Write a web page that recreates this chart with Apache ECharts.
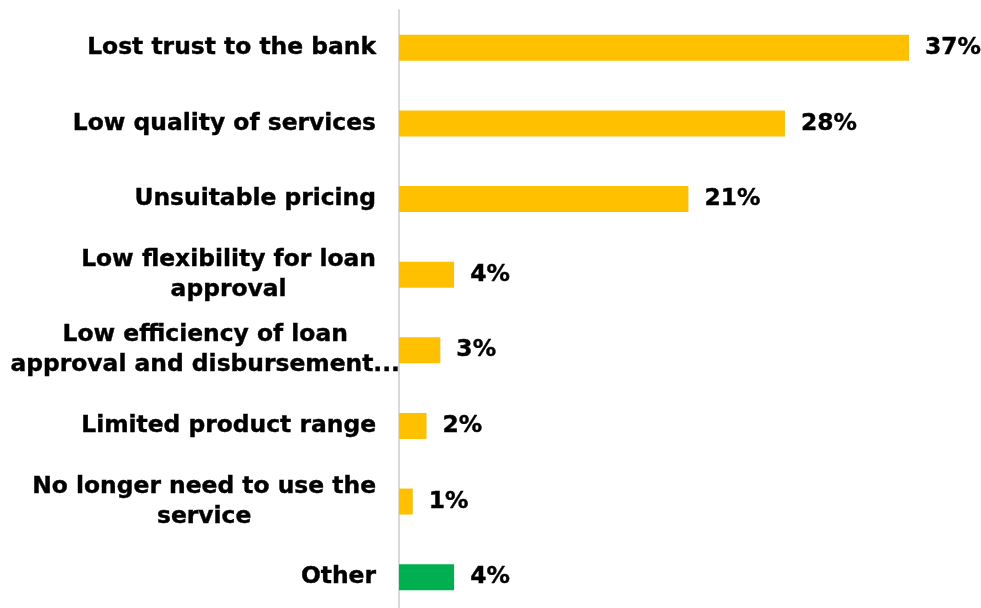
<!DOCTYPE html>
<html>
<head>
<meta charset="utf-8">
<script src="https://cdn.jsdelivr.net/npm/echarts@6/dist/echarts.min.js"></script>
<style>
  html, body { margin: 0; padding: 0; background: #ffffff; }
  #chart { width: 981px; height: 608px; }
</style>
</head>
<body>
<div id="chart"></div>
<script>
// Reasons for leaving the bank, share of respondents (%)
const categories = [
  'Lost trust to the bank',
  'Low quality of services',
  'Unsuitable pricing',
  'Low flexibility for loan\napproval',
  'Low efficiency of loan\napproval and disbursement...',
  'Limited product range',
  'No longer need to use the\nservice',
  'Other'
];
const shares = [37, 28, 21, 4, 3, 2, 1, 4];
const highlight = [false, false, false, false, false, false, false, true];

const GOLD = '#FFC000';
const GREEN = '#00B050';
const FONT = '"DejaVu Sans", Verdana, sans-serif';

// shared heavy text style
const textStyle = {
  fontFamily: FONT,
  fontWeight: 'bold',
  fontSize: 23.4,
  color: '#000000',
  textBorderColor: '#000000',
  textBorderWidth: 0.4
};

// the longest label runs past the axis line on its right side
const yData = categories.map(function (c) {
  return c.indexOf('disbursement') >= 0
    ? { value: c, textStyle: { padding: [0, -24, 0, 0] } }
    : c;
});

const chart = echarts.init(document.getElementById('chart'), null, { renderer: 'canvas' });

chart.setOption({
  backgroundColor: '#ffffff',
  animation: false,
  grid: {
    left: 399, right: 72, top: 10, bottom: -7,
    containLabel: false,
    outerBoundsMode: 'none'
  },
  xAxis: {
    type: 'value',
    min: 0,
    max: 37,
    show: false
  },
  yAxis: {
    type: 'category',
    inverse: true,
    data: yData,
    axisLine: { show: true, lineStyle: { color: '#d9d9d9', width: 2 } },
    axisTick: { show: false },
    splitLine: { show: false },
    axisLabel: Object.assign({
      margin: 23,
      lineHeight: 30,
      // centre each wrapped line within the label block
      formatter: function (v) {
        return v.split('\n').map(function (s) { return '{c|' + s + '}'; }).join('\n');
      },
      rich: {
        c: Object.assign({ align: 'center', lineHeight: 30 }, textStyle)
      }
    }, textStyle)
  },
  series: [{
    type: 'bar',
    barWidth: 26,
    data: shares.map(function (v, i) {
      return { value: v, itemStyle: { color: highlight[i] ? GREEN : GOLD } };
    }),
    label: Object.assign({
      show: true,
      position: 'right',
      distance: 16,
      formatter: '{c}%'
    }, textStyle)
  }]
});
</script>
</body>
</html>
